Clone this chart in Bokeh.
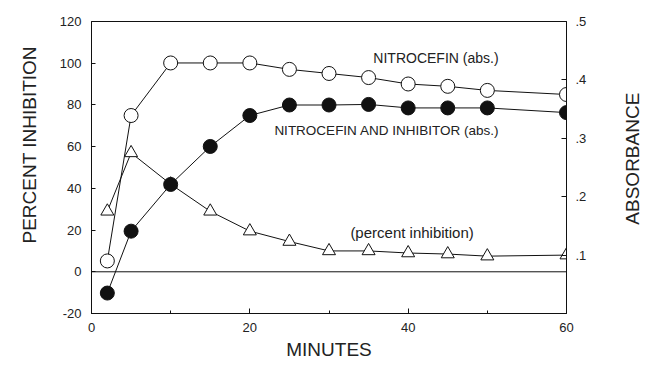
import math
from bokeh.plotting import figure
from bokeh.layouts import row
from bokeh.models import (Range1d, LinearAxis, FixedTicker, Span, Label,
                          ColumnDataSource, Title)
from bokeh.core.properties import value
from bokeh.embed import file_html
from bokeh.resources import INLINE

# ---- data ----
minutes = [2, 5, 10, 15, 20, 25, 30, 35, 40, 45, 50, 60]
nitrocefin_abs = [0.090, 0.339, 0.429, 0.429, 0.429, 0.418, 0.411, 0.404,
                  0.393, 0.389, 0.382, 0.375]
nitro_inhib_abs = [0.035, 0.141, 0.221, 0.286, 0.339, 0.357, 0.357, 0.358,
                   0.352, 0.352, 0.352, 0.344]
percent_inhibition = [29, 57, 42, 29, 19.5, 14.5, 10, 10, 9, 8.5, 7.5, 8]

x_ticks = [0, 20, 40, 60]
x_minor = [10, 30, 50]
left_ticks = [-20, 0, 20, 40, 60, 80, 100, 120]
left_tick_labels = ["-20", "0", "20", "40", "60", "80", "100", "120"]
right_ticks = [0.1, 0.2, 0.3, 0.4, 0.5]
right_tick_labels = [".1", ".2", ".3", ".4", ".5"]

FONT = "Liberation Sans"
TXT = "#222222"
INK = "#111111"
TICK_FS = "13px"
TITLE_FS = "19px"

H = 364
p = figure(width=612, height=H, output_backend="svg", toolbar_location=None,
           x_range=Range1d(0, 60), y_range=Range1d(-20, 120),
           min_border_left=91, min_border_right=46, min_border_top=21,
           min_border_bottom=51)
p.extra_y_ranges = {"abs": Range1d(0, 0.5)}
p.xgrid.visible = False
p.ygrid.visible = False
p.outline_line_color = INK
p.outline_line_width = 1
p.background_fill_color = "white"
p.border_fill_color = "white"

# bottom axis
xa = p.xaxis[0]
xa.ticker = FixedTicker(ticks=x_ticks, minor_ticks=x_minor)
xa.major_tick_in = 5
xa.major_tick_out = 0
xa.minor_tick_in = 3
xa.minor_tick_out = 0
xa.major_label_standoff = 9
xa.major_label_text_font = FONT
xa.major_label_text_font_size = TICK_FS
xa.major_label_text_color = TXT
xa.axis_line_color = INK
xa.major_tick_line_color = INK
xa.minor_tick_line_color = INK
xa.axis_label = "MINUTES"
xa.axis_label_standoff = 4
xa.axis_label_text_font = FONT
xa.axis_label_text_font_size = TITLE_FS
xa.axis_label_text_font_style = "normal"
xa.axis_label_text_color = TXT

# left axis
ya = p.yaxis[0]
ya.ticker = FixedTicker(ticks=left_ticks)
ya.major_label_overrides = dict(zip(left_ticks, left_tick_labels))
ya.major_tick_in = 4
ya.major_tick_out = 0
ya.minor_tick_line_color = None
ya.major_label_standoff = 10
ya.major_label_text_font = FONT
ya.major_label_text_font_size = TICK_FS
ya.major_label_text_color = TXT
ya.axis_line_color = INK
ya.major_tick_line_color = INK

p.add_layout(Title(text="PERCENT INHIBITION", align="left", offset=70,
                   standoff=33, text_font=FONT,
                   text_font_size=TITLE_FS, text_font_style="normal",
                   text_color=TXT), "left")

# right axis
ra = LinearAxis(y_range_name="abs", ticker=FixedTicker(ticks=right_ticks),
                major_label_overrides=dict(zip(right_ticks, right_tick_labels)))
ra.major_tick_in = 5
ra.major_tick_out = 0
ra.minor_tick_line_color = None
ra.major_label_standoff = 9
ra.major_label_text_font = FONT
ra.major_label_text_font_size = TICK_FS
ra.major_label_text_color = TXT
ra.axis_line_color = INK
ra.major_tick_line_color = INK
p.add_layout(ra, "right")

# zero line
p.add_layout(Span(location=0, dimension="width", line_color=INK, line_width=1))

src = ColumnDataSource(dict(t=minutes, a=nitrocefin_abs, b=nitro_inhib_abs,
                            c=percent_inhibition))

# lines
p.line("t", "a", source=src, y_range_name="abs", line_color=INK, line_width=1)
p.line("t", "b", source=src, y_range_name="abs", line_color=INK, line_width=1)
p.line("t", "c", source=src, line_color=INK, line_width=1)

# markers
p.scatter("t", "c", source=src, marker="triangle", size=13,
          fill_color="white", line_color=INK, line_width=1)
p.scatter("t", "b", source=src, y_range_name="abs", marker="circle", size=14,
          fill_color=INK, line_color=INK, line_width=1)
p.scatter("t", "a", source=src, y_range_name="abs", marker="circle", size=14,
          fill_color="white", line_color=INK, line_width=1)

# annotations inside the plot
def lab(x, y, text, size="14px", **kw):
    lbl = Label(x=x, y=y, text=text, text_font=FONT,
                text_font_size=size, text_color=TXT,
                text_baseline="middle", **kw)
    p.add_layout(lbl)
    return lbl

lab(35.6, 102.7, "NITROCEFIN (abs.)", text_align="left")
lab(23.1, 67.6, "NITROCEFIN AND INHIBITOR (abs.)", size="13.5px",
    text_align="left")
lab(32.7, 19.0, "(percent inhibition)", size="15px", text_align="left")

# right-hand title strip (reads bottom to top, like the reference)
W2 = 40
p2 = figure(width=W2, height=H, output_backend="svg", toolbar_location=None,
            x_range=Range1d(0, W2), y_range=Range1d(0, H),
            x_axis_type=None, y_axis_type=None, min_border=0)
p2.xgrid.visible = False
p2.ygrid.visible = False
p2.outline_line_color = None
p2.background_fill_color = "white"
p2.border_fill_color = "white"
p2.text(x=[W2 / 2], y=[H - 171], text=["ABSORBANCE"], angle=math.pi / 2,
        text_font=value(FONT), text_font_size=value(TITLE_FS),
        text_align="center", text_baseline="middle", text_color=TXT)

layout = row(p, p2, spacing=0)
open("out.html", "w").write(file_html(layout, INLINE))
